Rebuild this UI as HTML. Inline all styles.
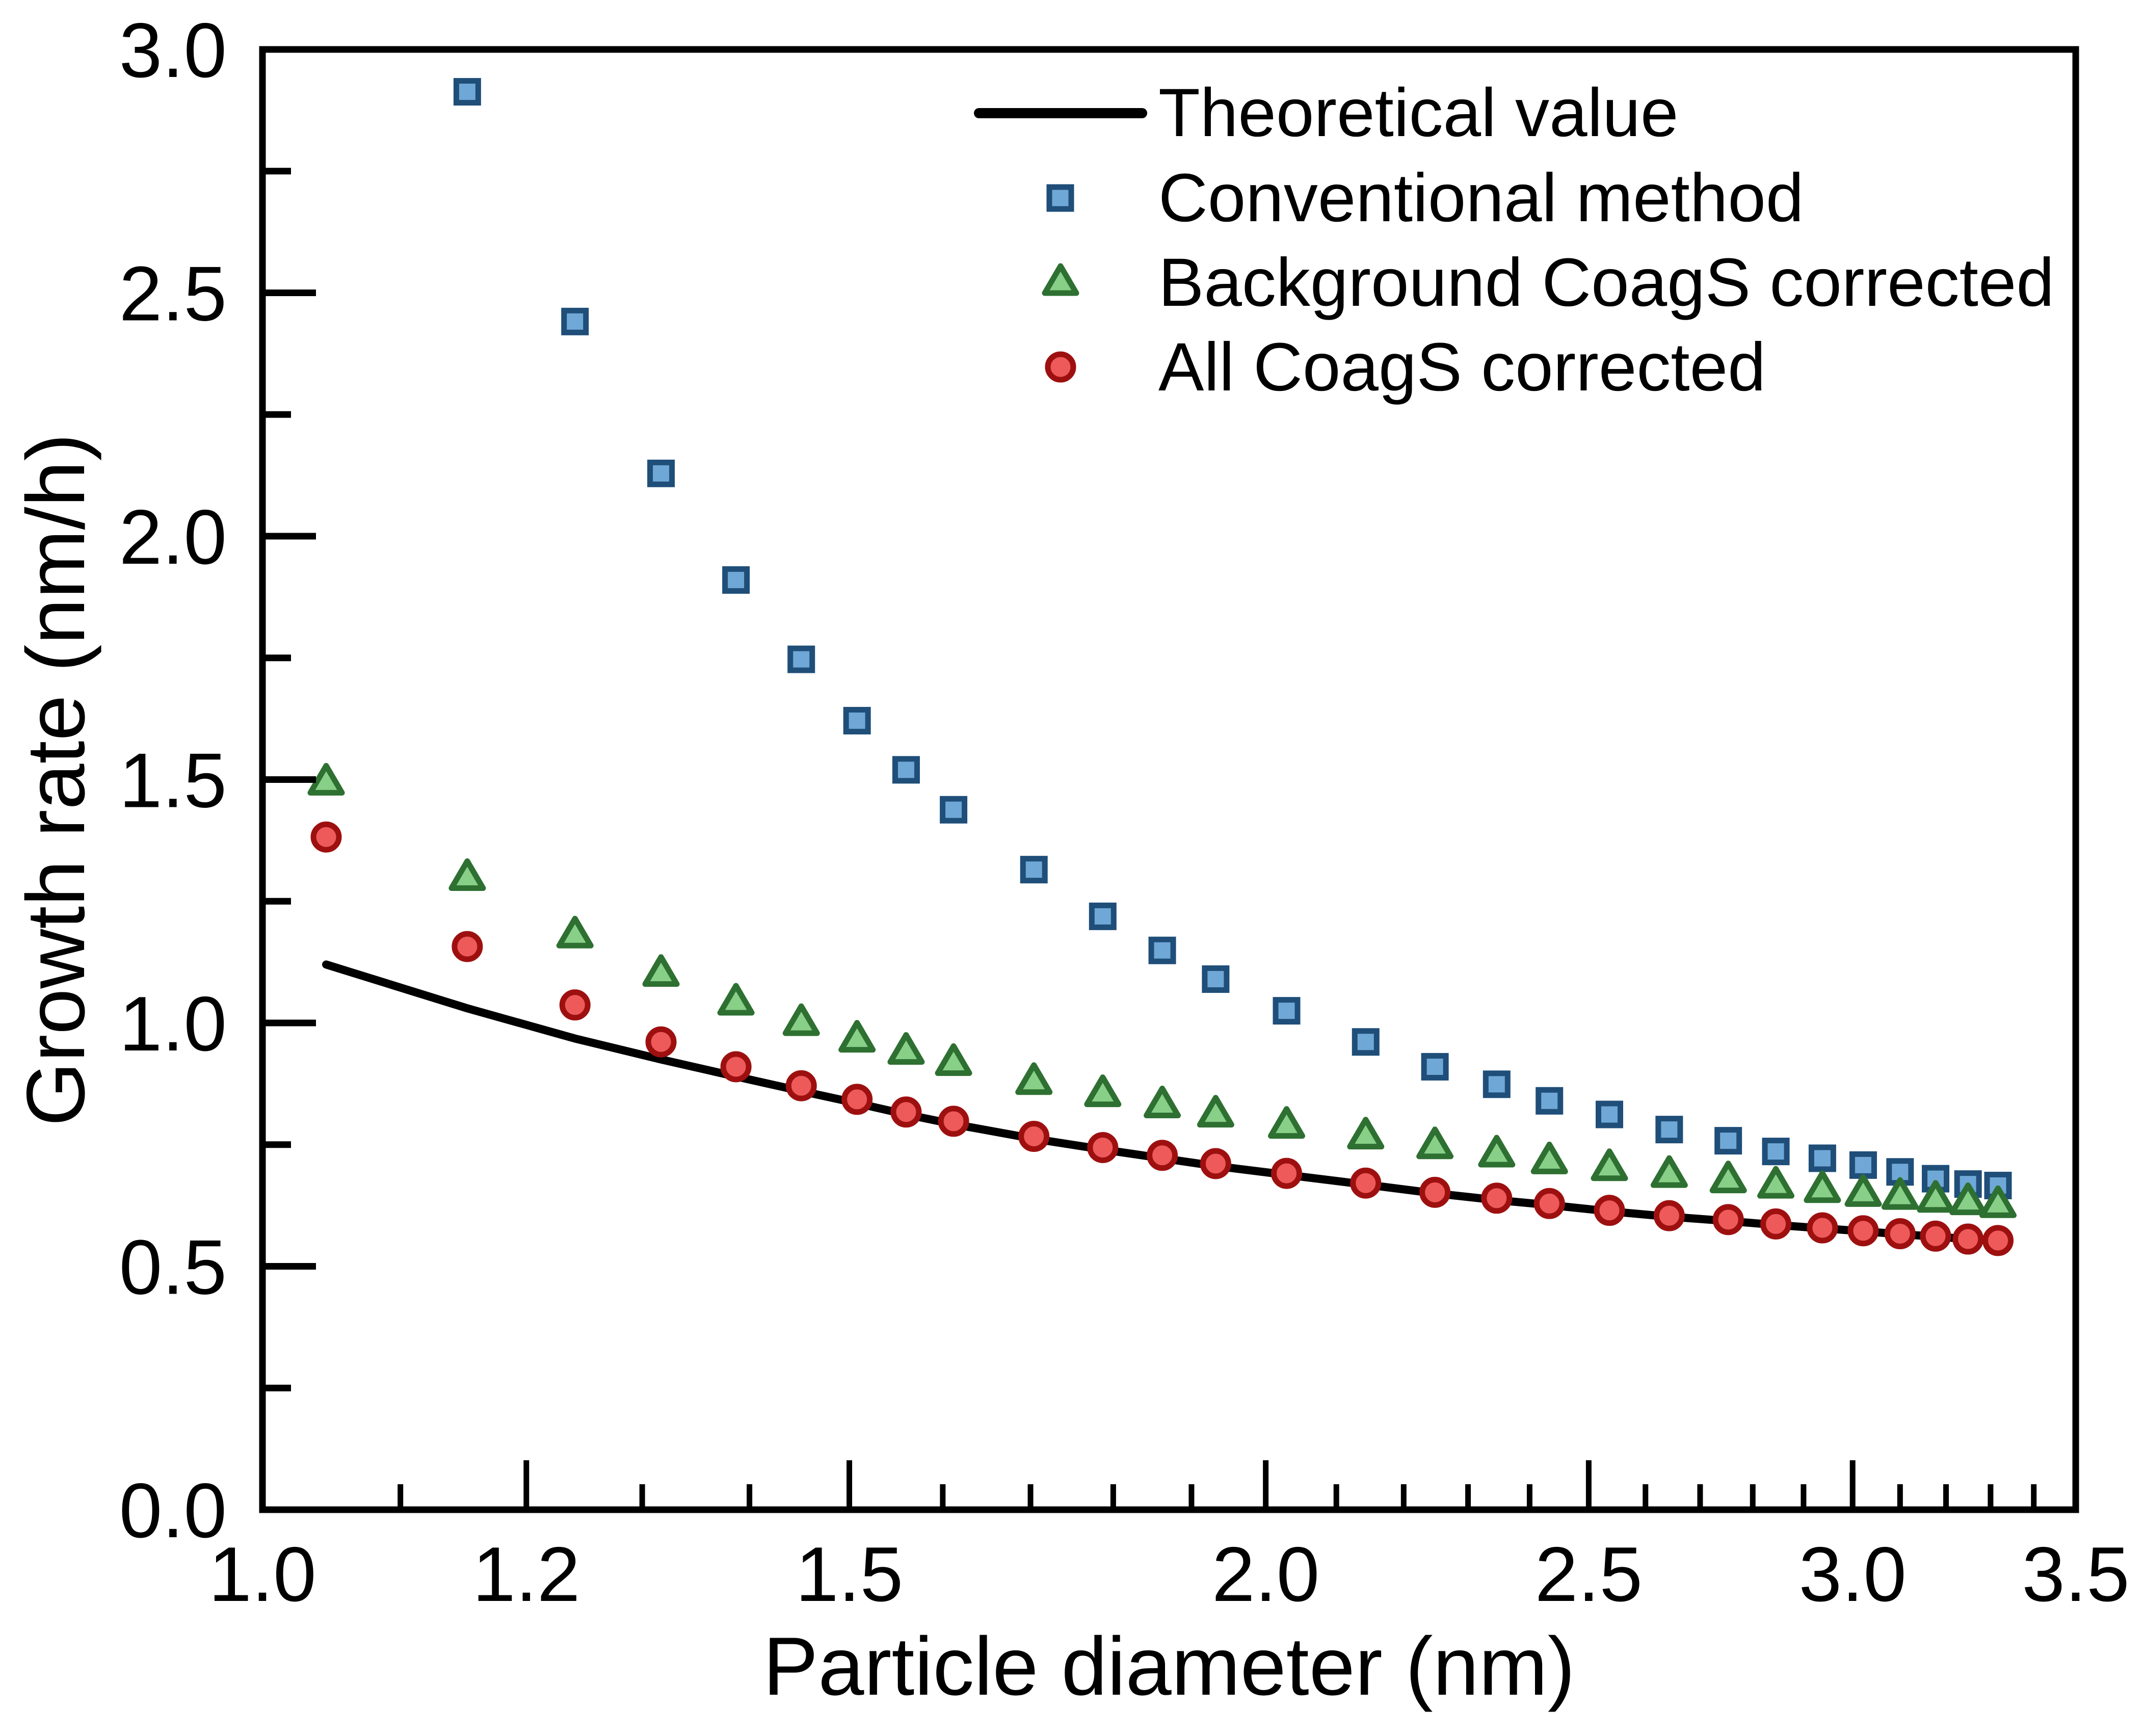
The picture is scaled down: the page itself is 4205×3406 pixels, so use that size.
<!DOCTYPE html>
<html><head><meta charset="utf-8"><style>
html,body{margin:0;padding:0;background:#fff;}
svg{display:block;font-family:"Liberation Sans",Arial,sans-serif;}
</style></head><body>
<svg id="chart" width="4205" height="3406" viewBox="0 0 4205 3406" xmlns="http://www.w3.org/2000/svg">
<rect width="4205" height="3406" fill="#fff"/>
<g id="marks"></g>
<g id="axes"></g>
<text x="2294" y="3325" font-size="162" text-anchor="middle">Particle diameter (nm)</text>
<text transform="translate(165,1530) rotate(-90)" font-size="162" text-anchor="middle">Growth rate (nm/h)</text>
<g>
  <g>
    <line x1="1921" y1="222" x2="2241" y2="222" stroke="#000" stroke-width="20" stroke-linecap="round"/>
    <text x="2273" y="267" font-size="134">Theoretical value</text>
  </g>
  <g>
    <rect x="2059" y="367" width="43" height="43" fill="#6fa8d6" stroke="#1f4e79" stroke-width="11"/>
    <text x="2273" y="434" font-size="134">Conventional method</text>
  </g>
  <g>
    <polygon points="2081,522 2112,575 2050,575" fill="#88cf88" stroke="#2e7031" stroke-width="11" stroke-linejoin="round"/>
    <text x="2273" y="600" font-size="134">Background CoagS corrected</text>
  </g>
  <g>
    <circle cx="2081" cy="720" r="25" fill="#ee5a5a" stroke="#9e1010" stroke-width="11"/>
    <text x="2273" y="766" font-size="134">All CoagS corrected</text>
  </g>
</g>
</svg>
<script>
const diameters = [1.045,1.152,1.241,1.317,1.387,1.451,1.508,1.560,1.612,1.704,1.787,1.862,1.932,2.029,2.143,2.248,2.346,2.433,2.536,2.643,2.753,2.845,2.938,3.022,3.100,3.177,3.249,3.317];
const theoretical = [1.12,1.03,0.968,0.925,0.89,0.86,0.835,0.812,0.792,0.762,0.740,0.722,0.706,0.688,0.668,0.650,0.636,0.626,0.613,0.602,0.593,0.585,0.578,0.572,0.566,0.561,0.556,0.552];
const conventional = [null,2.913,2.441,2.129,1.910,1.747,1.621,1.520,1.438,1.315,1.219,1.149,1.090,1.025,0.961,0.910,0.874,0.840,0.812,0.781,0.758,0.736,0.722,0.708,0.694,0.680,0.669,0.666];
const background = [1.497,1.301,1.183,1.104,1.045,1.003,0.969,0.944,0.921,0.882,0.857,0.834,0.815,0.792,0.770,0.750,0.733,0.719,0.705,0.691,0.680,0.669,0.660,0.652,0.646,0.640,0.635,0.629];
const allCorrected = [1.382,1.157,1.037,0.961,0.910,0.871,0.843,0.817,0.798,0.767,0.744,0.728,0.711,0.691,0.671,0.652,0.640,0.629,0.615,0.604,0.596,0.587,0.579,0.573,0.567,0.562,0.556,0.553];
const xMajorTicks = [1.0,1.2,1.5,2.0,2.5,3.0,3.5];
const xMajorLabels = ["1.0","1.2","1.5","2.0","2.5","3.0","3.5"];
const xMinorTicks = [1.1,1.3,1.4,1.6,1.7,1.8,1.9,2.1,2.2,2.3,2.4,2.6,2.7,2.8,2.9,3.1,3.2,3.3,3.4];
const yMajorTicks = [0,0.5,1.0,1.5,2.0,2.5,3.0];
const yMajorLabels = ["0.0","0.5","1.0","1.5","2.0","2.5","3.0"];
const yMinorTicks = [0.25,0.75,1.25,1.75,2.25,2.75];

const NS = "http://www.w3.org/2000/svg";
const L = 515, R = 4073, T = 97, B = 2962;
const xMin = 1.0, xMax = 3.5, yMin = 0, yMax = 3;
function xs(v){ return L + (Math.log(v/xMin)/Math.log(xMax/xMin))*(R-L); }
function ys(v){ return B - (v-yMin)/(yMax-yMin)*(B-T); }
function mk(tag, attrs, parent){
  const e = document.createElementNS(NS, tag);
  for (const k in attrs) e.setAttribute(k, attrs[k]);
  parent.appendChild(e);
  return e;
}
const marks = document.getElementById('marks');
const axes = document.getElementById('axes');

let d = '';
diameters.forEach((x,i)=>{ d += (i?'L':'M') + xs(x).toFixed(1) + ',' + ys(theoretical[i]).toFixed(1); });
const line = mk('path', {d:d, fill:'none', stroke:'#000', 'stroke-width':16, 'stroke-linejoin':'round', 'stroke-linecap':'round'}, marks);



conventional.forEach((v,i)=>{
  if (v === null) return;
  const cx = xs(diameters[i]), cy = ys(v);
  const r = mk('rect', {x:cx-21.5, y:cy-21.5, width:43, height:43, fill:'#6fa8d6', stroke:'#1f4e79', 'stroke-width':11}, marks);
  
  
});
background.forEach((v,i)=>{
  const cx = xs(diameters[i]), cy = ys(v);
  const p = mk('polygon', {points:`${cx},${cy-30} ${cx+31},${cy+23} ${cx-31},${cy+23}`, fill:'#88cf88', stroke:'#2e7031', 'stroke-width':11, 'stroke-linejoin':'round'}, marks);
  
  
});
allCorrected.forEach((v,i)=>{
  const c = mk('circle', {cx:xs(diameters[i]), cy:ys(v), r:25, fill:'#ee5a5a', stroke:'#9e1010', 'stroke-width':11}, marks);
  
  
});

const frame = mk('rect', {x:L, y:T, width:R-L, height:B-T, fill:'none', stroke:'#000', 'stroke-width':13}, axes);



xMajorTicks.forEach((v,i)=>{
  const x = xs(v);
  if (v > xMin && v < xMax) {
    const t = mk('line', {x1:x, y1:B, x2:x, y2:B-97, stroke:'#000', 'stroke-width':11}, axes);
    
    
  }
  const lb = mk('text', {x:x, y:3141, 'font-size':152, 'text-anchor':'middle'}, axes);
  lb.textContent = xMajorLabels[i];
  
  
});
xMinorTicks.forEach(v=>{
  const x = xs(v);
  const t = mk('line', {x1:x, y1:B, x2:x, y2:B-50, stroke:'#000', 'stroke-width':11}, axes);
  
  
});
yMajorTicks.forEach((v,i)=>{
  const y = ys(v);
  if (v > yMin && v < yMax) {
    const t = mk('line', {x1:L, y1:y, x2:L+105, y2:y, stroke:'#000', 'stroke-width':13}, axes);
    
    
  }
  const lb = mk('text', {x:445, y:y+54, 'font-size':152, 'text-anchor':'end'}, axes);
  lb.textContent = yMajorLabels[i];
  
  
});
yMinorTicks.forEach(v=>{
  const y = ys(v);
  const t = mk('line', {x1:L, y1:y, x2:L+56, y2:y, stroke:'#000', 'stroke-width':13}, axes);
  
  
});
</script>
</body></html>
